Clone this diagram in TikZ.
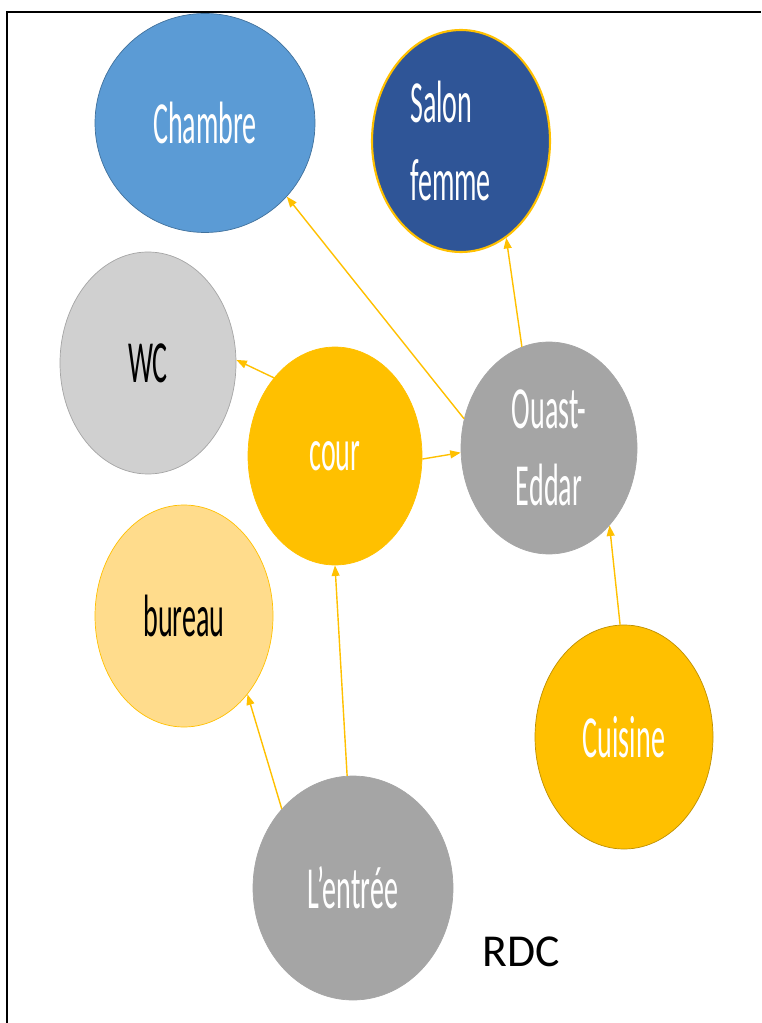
\documentclass[tikz,border=0pt]{standalone}
\usepackage{fontspec}
\setmainfont{Carlito}
\newfontfamily\roomfont[FakeStretch=0.47]{Carlito}
\usepackage{xcolor}
\usetikzlibrary{shapes.geometric, arrows.meta}

\definecolor{chblue}{HTML}{5B9BD5}
\definecolor{chedge}{HTML}{41719C}
\definecolor{navy}{HTML}{2F5597}
\definecolor{gold}{HTML}{FFC000}
\definecolor{darkgold}{HTML}{BF9000}
\definecolor{lightgray}{HTML}{D0D0D0}
\definecolor{midgray}{HTML}{A5A5A5}
\definecolor{pale}{HTML}{FFDC8C}

\tikzset{
  room/.style={ellipse, draw, inner sep=0pt, align=center, text=white,
               font=\roomfont\fontsize{34}{44}\selectfont},
  dims/.style 2 args={minimum width=#1*0.02cm, minimum height=#2*0.02cm},
  link/.style={-{Triangle[length=6pt,width=4.5pt]}, draw=gold, line width=0.8pt},
}

\begin{document}
\begin{tikzpicture}[x=0.02cm, y=-0.02cm]
  \useasboundingbox (0,0) rectangle (761,1023);
  % frame
  \draw[line width=1.1pt] (7,1023) -- (7,12) -- (761,12);

  \node[room, dims={220}{219}, fill=chblue, draw=chedge] (chambre) at (205,123) {Chambre};
  \node[room, dims={178}{222}, fill=navy, draw=gold, line width=1.2pt, align=left] (salon) at (461,141) {Salon\\femme\hspace*{12pt}};
  \node[room, dims={176}{222}, fill=lightgray, draw=midgray, text=black] (wc) at (148,363) {WC};
  \node[room, dims={174}{218}, fill=gold, draw=gold] (cour) at (335,456) {cour};
  \node[room, dims={176}{212}, fill=midgray, draw=midgray] (ouast) at (549,448) {Ouast-\\Eddar};
  \node[room, dims={178}{222}, fill=pale, draw=gold, text=black] (bureau) at (184,616) {bureau};
  \node[room, dims={178}{224}, fill=gold, draw=darkgold] (cuisine) at (624,737) {Cuisine};
  \node[room, dims={200}{224}, fill=midgray, draw=midgray] (entree) at (353,888) {L’entrée};

  \node[font=\fontsize{26}{30}\selectfont] (rdc) at (521,952) {RDC};

  % links
  \draw[link] (cour.128) -- (wc.2);
  \draw[link] (cour.-2) -- (ouast.183);
  \draw[link] (ouast.161) -- (chambre.-42);
  \draw[link] (ouast.105) -- (salon.-65);
  \draw[link] (cuisine.92) -- (ouast.-52);
  \draw[link] (entree.93) -- (cour.270);
  \draw[link] (entree.132) -- (bureau.-51);
\end{tikzpicture}
\end{document}
